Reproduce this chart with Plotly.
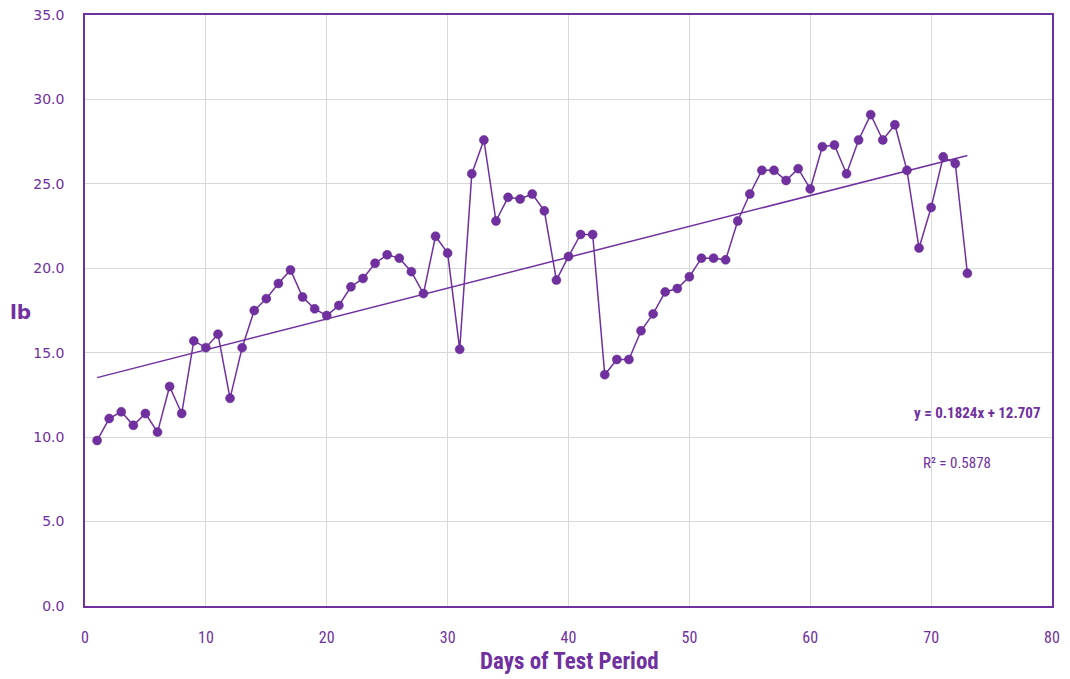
import numpy as np
import plotly.graph_objects as go

days = list(range(1, 74))
weight_lb = [9.8, 11.1, 11.5, 10.7, 11.4, 10.3, 13.0, 11.4, 15.7, 15.3,
             16.1, 12.3, 15.3, 17.5, 18.2, 19.1, 19.9, 18.3, 17.6, 17.2,
             17.8, 18.9, 19.4, 20.3, 20.8, 20.6, 19.8, 18.5, 21.9, 20.9,
             15.2, 25.6, 27.6, 22.8, 24.2, 24.1, 24.4, 23.4, 19.3, 20.7,
             22.0, 22.0, 13.7, 14.6, 14.6, 16.3, 17.3, 18.6, 18.8, 19.5,
             20.6, 20.6, 20.5, 22.8, 24.4, 25.8, 25.8, 25.2, 25.9, 24.7,
             27.2, 27.3, 25.6, 27.6, 29.1, 27.6, 28.5, 25.8, 21.2, 23.6,
             26.6, 26.2, 19.7]

x_ticks = [0, 10, 20, 30, 40, 50, 60, 70, 80]
y_ticks = [0, 5, 10, 15, 20, 25, 30, 35]
y_tick_labels = ["0.0", "5.0", "10.0", "15.0", "20.0", "25.0", "30.0", "35.0"]

eq_text = "y = 0.1824x + 12.707"
r2_text = "R² = 0.5878"
x_title = "Days of Test Period"
y_title = "lb"

purple = "#7030A0"
narrow = "Liberation Sans Narrow, Roboto Condensed, Open Sans, sans-serif"

slope, intercept = np.polyfit(days, weight_lb, 1)
trend_x = [days[0], days[-1]]
trend_y = [slope * v + intercept for v in trend_x]

# target plot area (pixels in the screenshot)
PL, PT, PR, PB = 85, 15, 1052, 606
OFF = 8  # page body margin
W, H = 1070, 679
pw, ph = PR - PL, PB - PT

fig = go.Figure()
fig.add_trace(go.Scatter(
    x=trend_x, y=trend_y, mode="lines",
    line=dict(color=purple, width=1.5), hoverinfo="skip", showlegend=False))
fig.add_trace(go.Scatter(
    x=days, y=weight_lb, mode="lines+markers",
    line=dict(color=purple, width=1.5),
    marker=dict(color=purple, size=9, line=dict(color="#5a2585", width=0.5)),
    showlegend=False))

fig.add_annotation(x=73.8, y=11.45, text=f"<b>{eq_text}</b>", showarrow=False,
                   xref="x", yref="y", xanchor="center", yanchor="middle",
                   font=dict(family=narrow, size=15, color=purple))
fig.add_annotation(x=72.1, y=8.45, text=r2_text, showarrow=False,
                   xref="x", yref="y", xanchor="center", yanchor="middle",
                   font=dict(family=narrow, size=15, color=purple))
fig.add_annotation(x=(20 - PL) / pw, y=(PB - 312) / ph, xref="paper", yref="paper",
                   text=f"<b>{y_title}</b>", showarrow=False, xanchor="center", yanchor="middle",
                   font=dict(family="DejaVu Sans, sans-serif", size=20, color=purple))
fig.add_annotation(x=(569 - PL) / pw, y=(PB - 661) / ph, xref="paper", yref="paper",
                   text=f"<b>{x_title}</b>", showarrow=False, xanchor="center", yanchor="middle",
                   font=dict(family=narrow, size=23, color=purple))

fig.update_layout(
    width=W, height=H,
    margin=dict(l=PL - OFF, r=W - (PR - OFF), t=PT - OFF, b=H - (PB - OFF), autoexpand=False),
    plot_bgcolor="white", paper_bgcolor="white",
    xaxis=dict(range=[0, 80], tickvals=x_ticks, showgrid=True, gridcolor="#d9d9d9", gridwidth=1,
               showline=True, linecolor=purple, linewidth=1.5, mirror=True, zeroline=False,
               ticks="", ticklabelstandoff=16, automargin=False, ticklabeloverflow="allow",
               tickfont=dict(family=narrow, size=16, color=purple)),
    yaxis=dict(range=[0, 35], tickvals=y_ticks, ticktext=y_tick_labels, showgrid=True,
               gridcolor="#d9d9d9", gridwidth=1,
               showline=True, linecolor=purple, linewidth=1.5, mirror=True, zeroline=False,
               ticks="", ticklabelstandoff=16, automargin=False, ticklabeloverflow="allow",
               tickfont=dict(family="DejaVu Sans, sans-serif", size=14, color=purple)),
)

fig.write_html("out.html")
